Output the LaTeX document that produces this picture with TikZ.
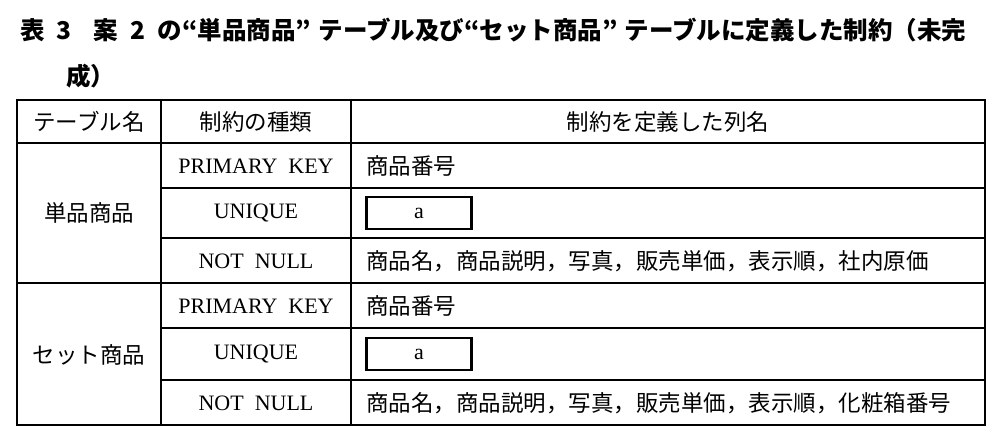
\documentclass[tikz,border=0pt]{standalone}
\usepackage{fontspec}
\setmainfont{Liberation Serif}
\newfontfamily\cjk{Noto Sans CJK JP}
\begin{document}
\begin{tikzpicture}[x=1pt,y=-1pt,
  cell/.style={inner sep=0pt,font=\fontsize{22}{22}\selectfont},
  jp/.style={cell,font=\cjk\fontsize{22.5}{22.5}\selectfont},
  ttl/.style={inner sep=0pt,anchor=west,font=\cjk\bfseries\fontsize{24.5}{24.5}\selectfont},
  grid/.style={line width=1.3pt},
  abox/.style={draw,line width=2.2pt,minimum width=105pt,minimum height=32pt,inner sep=0pt,font=\fontsize{22}{22}\selectfont}]
\useasboundingbox (0,0) rectangle (1007,445);
\node[ttl] (t1) at (20,30) {表\hspace{0.5em}3\hspace{0.9em}案\hspace{0.5em}2\hspace{0.5em}の“単品商品”\hspace{0.3em}テーブル及び“セット商品”\hspace{0.3em}テーブルに定義した制約（未完};
\node[ttl] (t2) at (66,76) {成）};
\draw[grid] (17,100) rectangle (985,425);
\draw[grid] (17,143) -- (985,143);
\draw[grid] (17,283) -- (985,283);
\foreach \y in {188,238,328,380} \draw[grid] (161,\y) -- (985,\y);
\draw[grid] (161,100) -- (161,425);
\draw[grid] (351,100) -- (351,425);
\node[jp] (h1) at (89,122) {テーブル名};
\node[jp] (h2) at (256,122) {制約の種類};
\node[jp] (h3) at (668,122) {制約を定義した列名};
\node[jp] (n1) at (89,213) {単品商品};
\node[jp] (n2) at (89,355) {セット商品};
\foreach \y/\k in {166/1,306/2}{
  \node[cell] (pk\k) at (256,\y) {PRIMARY\ \ KEY};
  \node[jp,anchor=west] (pv\k) at (366,\y) {商品番号};}
\foreach \y/\k in {213/1,354/2}{
  \node[cell] (u\k) at (256,\y) {UNIQUE};
  \node[abox] (a\k) at (419,\y) {a};}
\node[cell] (nn1) at (256,261) {NOT\ \ NULL};
\node[cell] (nn2) at (256,403) {NOT\ \ NULL};
\node[jp,anchor=west] (nv1) at (366,261) {商品名，商品説明，写真，販売単価，表示順，社内原価};
\node[jp,anchor=west] (nv2) at (366,403) {商品名，商品説明，写真，販売単価，表示順，化粧箱番号};
\end{tikzpicture}
\end{document}
